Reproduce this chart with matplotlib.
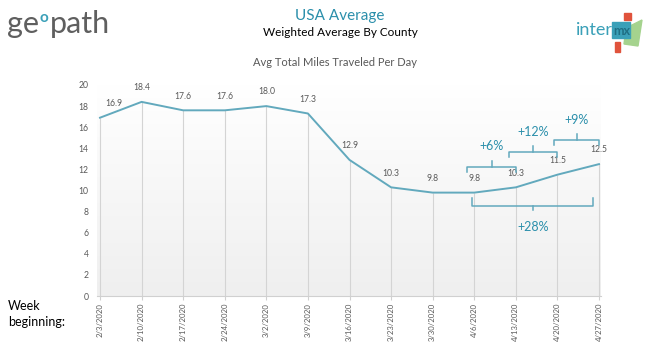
import numpy as np
import matplotlib
matplotlib.use("Agg")
import matplotlib.pyplot as plt
from matplotlib.patches import Rectangle, Polygon
from matplotlib.colors import LinearSegmentedColormap

plt.rcParams['font.family'] = ['Lato', 'DejaVu Sans']

# ---- data ----
weeks = ["2/3/2020", "2/10/2020", "2/17/2020", "2/24/2020", "3/2/2020", "3/9/2020",
         "3/16/2020", "3/23/2020", "3/30/2020", "4/6/2020", "4/13/2020", "4/20/2020", "4/27/2020"]
miles = [16.9, 18.4, 17.6, 17.6, 18.0, 17.3, 12.9, 10.3, 9.8, 9.8, 10.3, 11.5, 12.5]
y_ticks = [0, 2, 4, 6, 8, 10, 12, 14, 16, 18, 20]

# week-over-week changes shown as brackets: (label, start week, end week)
changes_above = [("+6%", "4/6/2020", "4/13/2020"),
                 ("+12%", "4/13/2020", "4/20/2020"),
                 ("+9%", "4/20/2020", "4/27/2020")]
change_below = ("+28%", "4/6/2020", "4/27/2020")

LINE = "#62a9bd"
TEAL = "#2b8fab"
GRAY = "#595959"

fig = plt.figure(figsize=(6.5, 3.57), dpi=100)
fig.patch.set_facecolor("white")

ax = fig.add_axes([97/650, 1-296/357, (601-97)/650, (296-85)/357])
x = np.arange(len(weeks))
ax.set_xlim(-3/41.58, 12 + 2/41.58)
ax.set_ylim(0, 20)

# gradient background
grad = np.linspace(1.0, 0.0, 256).reshape(-1, 1)
cmap = LinearSegmentedColormap.from_list("bg", ["#efefef", "#ffffff"])
ax.imshow(grad, extent=[0, 1, 0, 1], transform=ax.transAxes, cmap=cmap,
          aspect="auto", zorder=0, origin="upper")

ax.vlines(x, 0, miles, colors="#d4d4d4", linewidth=0.8, zorder=1)
ax.plot(x, miles, color=LINE, linewidth=1.4, zorder=3)

for i, v in enumerate(miles):
    dx = 10 if i == 0 else 0
    ax.annotate(f"{v:.1f}", (x[i], v), xytext=(dx, 7), textcoords="offset points",
                ha="center", va="bottom", fontsize=6.2, color=GRAY)

for s in ["top", "right", "left"]:
    ax.spines[s].set_visible(False)
ax.spines["bottom"].set_color("#d0d0d0")
ax.spines["bottom"].set_linewidth(0.8)

ax.set_yticks(y_ticks)
ax.set_yticklabels([str(t) for t in y_ticks], fontsize=6.2, color=GRAY)
ax.tick_params(axis="y", length=0, pad=6)
ax.set_xticks(x)
ax.set_xticklabels(weeks, rotation=90, fontsize=5.6, color=GRAY)
ax.tick_params(axis="x", length=3, color="#d0d0d0", pad=2)

idx = {w: i for i, w in enumerate(weeks)}

def bracket(x0, x1, y, h, tick, label, ty):
    ax.plot([x0, x0, x1, x1], [y - h, y, y, y - h], color=LINE, lw=1.1,
            clip_on=False, zorder=4)
    xm = (x0 + x1) / 2
    ax.plot([xm, xm], [y, y + tick], color=LINE, lw=1.1, clip_on=False, zorder=4)
    ax.text(xm, ty, label, ha="center", va="center", fontsize=9, color=TEAL,
            clip_on=False)

offsets = [(-0.17, 12.23, 14.2), (-0.16, 13.65, 15.55), (-0.08, 14.79, 16.68)]
for (lab, a, b), (dx0, yl, ty) in zip(changes_above, offsets):
    bracket(idx[a] + dx0, idx[b], yl, 0.5, 0.55, lab, ty)

lab, a, b = change_below
bracket(idx[a] - 0.05, idx[b] - 0.14, 8.53, -0.76, -0.4, lab, 6.54)

# ---- header texts ----
fig.text(340/650, 1-16/357, "USA Average", ha="center", va="center", fontsize=11, color=TEAL)
fig.text(340/650, 1-32/357, "Weighted Average By County", ha="center", va="center",
         fontsize=8.5, color="black")
fig.text(335/650, 1-62/357, "Avg Total Miles Traveled Per Day", ha="center", va="center",
         fontsize=8, color=GRAY)
fig.text(8/650, 1-314/357, "Week\nbeginning:", ha="left", va="center", fontsize=9,
         color="black", linespacing=1.3)

# geopath logo
t1 = fig.text(7/650, 1-33/357, "ge", ha="left", va="baseline", fontsize=22, color="#5f5f5f")
t2 = fig.text(0, 0, "o", ha="left", va="baseline", fontsize=11, color="#3aa0b8",
              fontweight="bold")
t3 = fig.text(0, 0, "path", ha="left", va="baseline", fontsize=22, color="#5f5f5f")
fig.canvas.draw()
r = fig.canvas.get_renderer()
bb1 = t1.get_window_extent(r)
t2.set_position(((bb1.x1 + 1) / 650, 1 - 22/357))
fig.canvas.draw()
bb2 = t2.get_window_extent(r)
t3.set_position(((bb2.x1 + 1) / 650, 1 - 33/357))

# intermx logo
fig.patches.append(Rectangle((624/650, 1-20/357), 7/650, 7/357, transform=fig.transFigure,
                             color="#e0533c", zorder=1))
fig.patches.append(Rectangle((615/650, 1-52/357), 5/650, 10/357, transform=fig.transFigure,
                             color="#e0533c", zorder=1))
fig.patches.append(Polygon([(626/650, 1-28/357), (642/650, 1-20/357), (638/650, 1-46/357),
                            (624/650, 1-44/357)], closed=True, transform=fig.transFigure,
                           color="#a5d38e", zorder=1))
fig.patches.append(Rectangle((612/650, 1-38/357), 18/650, 16/357, transform=fig.transFigure,
                             color="#3aa0b8", zorder=2))
fig.text(576/650, 1-30/357, "inter", ha="left", va="center", fontsize=13, color="#3aa0b8",
         zorder=3)
fig.text(613/650, 1-31/357, "mx", ha="left", va="center", fontsize=9, color="#1f6f84",
         fontweight="bold", zorder=3)

fig.savefig("out.png", dpi=100, facecolor="white")
